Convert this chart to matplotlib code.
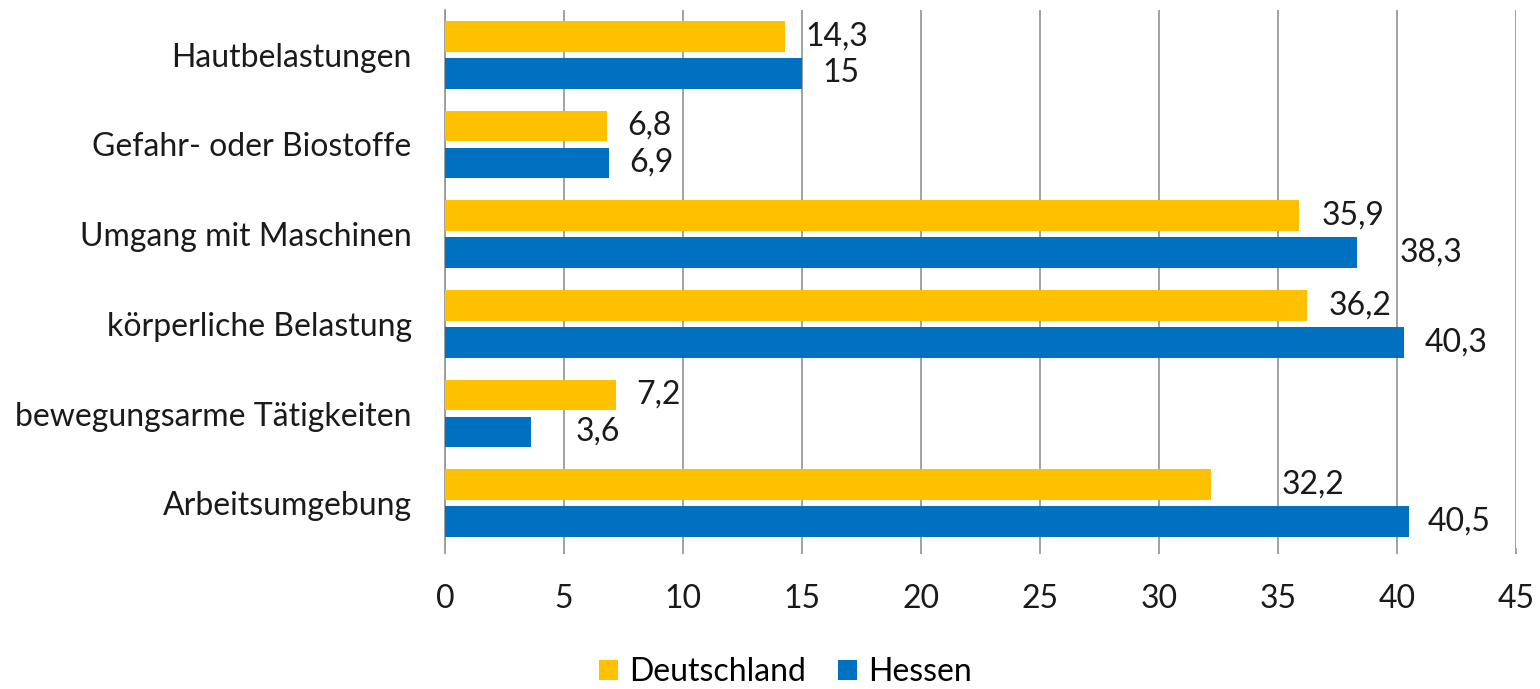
import numpy as np
import matplotlib.pyplot as plt

# Daten (von oben nach unten)
kategorien = ['Hautbelastungen', 'Gefahr- oder Biostoffe', 'Umgang mit Maschinen',
              'körperliche Belastung', 'bewegungsarme Tätigkeiten', 'Arbeitsumgebung']
deutschland = [14.3, 6.8, 35.9, 36.2, 7.2, 32.2]
hessen = [15.0, 6.9, 38.3, 40.3, 3.6, 40.5]
reihen = ['Deutschland', 'Hessen']

c_de = '#FFC000'
c_he = '#0070C0'
grau = '#9A9A9A'

plt.rcParams['font.family'] = ['Lato', 'DejaVu Sans']
fs = 23

fig = plt.figure(figsize=(15.4, 6.89), dpi=100)
ax = fig.add_axes([445/1540, 1 - 548/689, (1516-445)/1540, (548-10)/689])

y = np.arange(len(kategorien))
h = 0.345
d = 0.206
b1 = ax.barh(y - d, deutschland, height=h, color=c_de, label=reihen[0], zorder=3)
b2 = ax.barh(y + d, hessen, height=h, color=c_he, label=reihen[1], zorder=3)

# Abstand der Beschriftungen in Pixel (wie im Original verschoben)
off_de = [20, 20, 22, 22, 20, 70]
off_he = [20, 20, 43, 21, 45, 19]
for bars, vals, offs in [(b1, deutschland, off_de), (b2, hessen, off_he)]:
    for rect, v, o in zip(bars, vals, offs):
        txt = ('%g' % v).replace('.', ',')
        ax.annotate(txt, (rect.get_width(), rect.get_y() + rect.get_height()/2),
                    xytext=(o*0.72, 0), textcoords='offset points',
                    ha='left', va='center', fontsize=fs, color='#1a1a1a')

ax.set_xlim(0, 45)
ax.set_ylim(len(kategorien) - 0.5, -0.5)
ax.set_xticks(np.arange(0, 46, 5))
ax.set_yticks(y)
ax.set_yticklabels(kategorien)
ax.grid(axis='x', color=grau, linewidth=1.3, zorder=0)
for s in ['top', 'right', 'bottom']:
    ax.spines[s].set_visible(False)
ax.spines['left'].set_color(grau)
ax.spines['left'].set_linewidth(1.3)
ax.tick_params(axis='x', length=4, width=1.3, color=grau, pad=22, labelsize=fs, labelcolor='#1a1a1a')
ax.tick_params(axis='y', length=0, pad=24, labelsize=fs, labelcolor='#1a1a1a')

fig.legend(loc='center', bbox_to_anchor=(0.51, 1 - 672/689), ncol=2, frameon=False,
           fontsize=fs, handlelength=0.6, handleheight=0.6, handletextpad=0.35,
           columnspacing=1.0)

fig.savefig('out.png', dpi=100)
